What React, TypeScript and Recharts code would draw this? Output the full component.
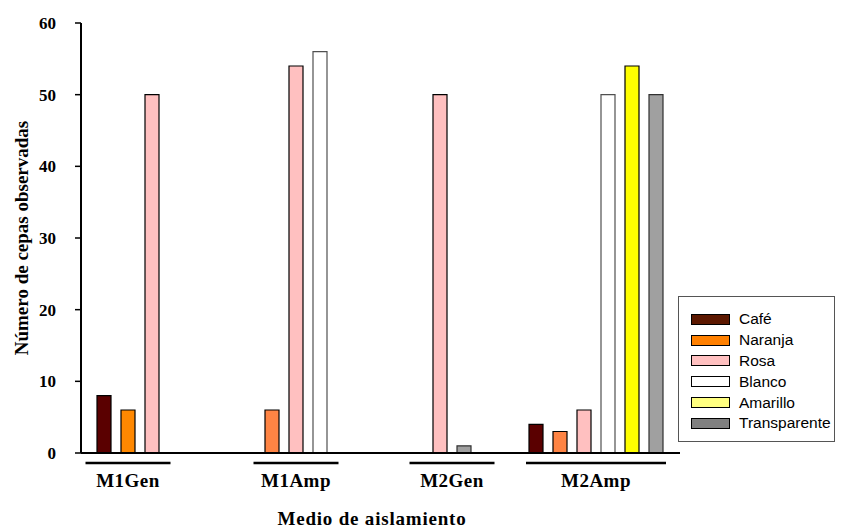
import React from "react";
import { BarChart, Bar, XAxis, YAxis, Cell } from "recharts";

const groups = ["M1Gen", "M1Amp", "M2Gen", "M2Amp"];
const seriesNames = ["Café", "Naranja", "Rosa", "Blanco", "Amarillo", "Transparente"];
const cafe = [8, 0, 0, 4];
const naranja = [6, 6, 0, 3];
const rosa = [50, 54, 50, 6];
const blanco = [0, 56, 0, 50];
const amarillo = [0, 0, 0, 54];
const transparente = [0, 0, 1, 50];
const yTicks = [0, 10, 20, 30, 40, 50, 60];
const seriesValues = [cafe, naranja, rosa, blanco, amarillo, transparente];

// layout: number of slots each group occupies on the axis
const groupSlots = [7, 7, 4, 6];

const barFill: Record<string, string> = {
  "Café": "#5a0000",
  "Naranja": "#ff8444",
  "Rosa": "#ffc0c0",
  "Blanco": "#ffffff",
  "Amarillo": "#ffff00",
  "Transparente": "#a0a0a0",
};
const barFillOverride: Record<string, string> = { "M1Gen-Naranja": "#ff8800" };
const barStroke: Record<string, string> = {
  "Café": "#000000",
  "Naranja": "#000000",
  "Rosa": "#000000",
  "Blanco": "#505050",
  "Amarillo": "#000000",
  "Transparente": "#303030",
};
const legendFill: Record<string, string> = {
  "Café": "#5c1800",
  "Naranja": "#ff8000",
  "Rosa": "#ffc0c0",
  "Blanco": "#ffffff",
  "Amarillo": "#ffff80",
  "Transparente": "#808080",
};

type Row = { slot: string; value: number | null; series?: string; group?: string; first?: boolean; n?: number };
const rows: Row[] = [];
groups.forEach((g, gi) => {
  const present = seriesNames
    .map((s, si) => ({ s, v: seriesValues[si][gi] }))
    .filter((d) => d.v > 0);
  present.forEach((d, k) =>
    rows.push({ slot: `${g}-${d.s}`, value: d.v, series: d.s, group: g, first: k === 0, n: present.length })
  );
  for (let k = present.length; k < groupSlots[gi]; k++) rows.push({ slot: `${g}-gap${k}`, value: null });
});

const SERIF = "'Liberation Serif', 'Times New Roman', serif";
const SANS = "'Liberation Sans', Arial, sans-serif";
const BAND = 24;

const GroupTick = (props: any) => {
  const { x, y, payload } = props;
  const row = rows[payload.index];
  if (!row || !row.first) return null;
  const n = row.n || 1;
  const cx = x + ((n - 1) * BAND) / 2;
  const hw = Math.max(85, n * BAND - 4) / 2;
  return (
    <g>
      <line x1={cx - hw} x2={cx + hw} y1={y + 10} y2={y + 10} stroke="#000" strokeWidth={2.5} />
      <text
        x={cx}
        y={y + 34}
        textAnchor="middle"
        fontFamily={SERIF}
        fontWeight="bold"
        fontSize={19}
        letterSpacing={0.5}
        fill="#000"
      >
        {row.group}
      </text>
    </g>
  );
};

const LegendBox = () => (
  <div
    style={{
      position: "absolute",
      left: 678,
      top: 296,
      width: 157,
      height: 146,
      border: "1px solid #555",
      boxSizing: "border-box",
      background: "#fff",
      paddingTop: 12,
      paddingLeft: 12,
    }}
  >
    {seriesNames.map((s) => (
      <div key={s} style={{ display: "flex", alignItems: "center", height: 20.8 }}>
        <div
          style={{
            width: 39,
            height: 11,
            background: legendFill[s],
            border: "1px solid #000",
            boxSizing: "border-box",
            marginRight: 9,
          }}
        />
        <span style={{ fontFamily: SANS, fontSize: 15.5, color: "#000", lineHeight: "16px" }}>{s}</span>
      </div>
    ))}
  </div>
);

export default function App() {
  return (
    <div style={{ position: "absolute", left: 0, top: 0, width: 845, height: 529, background: "#fff" }}>
      <BarChart
        width={845}
        height={529}
        data={rows}
        margin={{ top: 23, right: 165, bottom: 0, left: 0 }}
        barSize={14}
      >
        <XAxis
          dataKey="slot"
          interval={0}
          tickLine={false}
          tickSize={0}
          tickMargin={0}
          padding={{ left: 11, right: 12 }}
          axisLine={{ stroke: "#000", strokeWidth: 2 }}
          tick={<GroupTick />}
          height={76}
          label={{
            content: () => (
              <text
                x={372}
                y={525}
                textAnchor="middle"
                fontFamily={SERIF}
                fontWeight="bold"
                fontSize={19}
                letterSpacing={0.8}
                fill="#000"
              >
                Medio de aislamiento
              </text>
            ),
          }}
        />
        <YAxis
          width={81}
          domain={[0, 60]}
          ticks={yTicks}
          interval={0}
          tickSize={6}
          tickMargin={19}
          axisLine={{ stroke: "#000", strokeWidth: 2 }}
          tickLine={{ stroke: "#000", strokeWidth: 1.5 }}
          tick={{ fontFamily: SERIF, fontWeight: "bold", fontSize: 17, fill: "#000" }}
          label={{
            content: () => (
              <text
                transform="translate(28,238) rotate(-90)"
                textAnchor="middle"
                fontFamily={SERIF}
                fontWeight="bold"
                fontSize={19}
                fill="#000"
              >
                Número de cepas observadas
              </text>
            ),
          }}
        />
        <Bar dataKey="value" isAnimationActive={false} strokeWidth={1.2}>
          {rows.map((r) => (
            <Cell
              key={r.slot}
              fill={r.series ? barFillOverride[`${r.group}-${r.series}`] || barFill[r.series] : "none"}
              stroke={r.series ? barStroke[r.series] : "none"}
            />
          ))}
        </Bar>
      </BarChart>
      <LegendBox />
    </div>
  );
}
